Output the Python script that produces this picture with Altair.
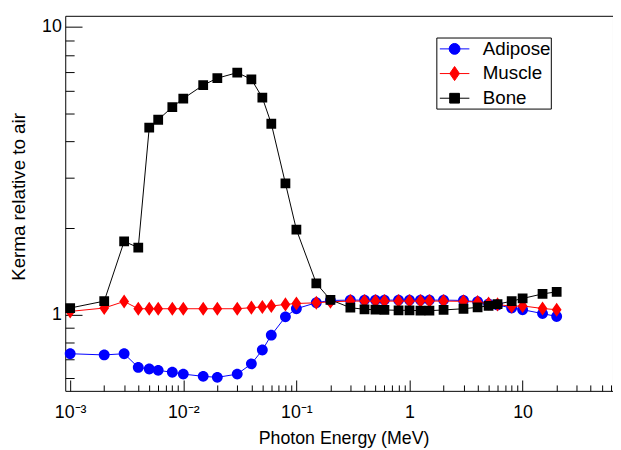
import altair as alt
import pandas as pd

# ---------------- data ----------------
energy = [0.001, 0.002, 0.003, 0.004, 0.005, 0.006, 0.008, 0.01, 0.015, 0.02,
          0.03, 0.04, 0.05, 0.06, 0.08, 0.1, 0.15, 0.2, 0.3, 0.4,
          0.5, 0.6, 0.8, 1.0, 1.25, 1.5, 2, 3, 4, 5,
          6, 8, 10, 15, 20]

adipose = [0.731, 0.724, 0.731, 0.655, 0.647, 0.640, 0.630, 0.621, 0.610, 0.605,
           0.621, 0.674, 0.753, 0.848, 0.982, 1.048, 1.100, 1.120, 1.123, 1.123,
           1.123, 1.123, 1.123, 1.123, 1.123, 1.123, 1.123, 1.120, 1.108, 1.090,
           1.080, 1.054, 1.040, 1.008, 0.985]

muscle = [1.026, 1.054, 1.111, 1.048, 1.048, 1.048, 1.048, 1.048, 1.048, 1.048,
          1.048, 1.057, 1.063, 1.071, 1.085, 1.093, 1.099, 1.108, 1.114, 1.114,
          1.114, 1.114, 1.114, 1.114, 1.114, 1.114, 1.114, 1.112, 1.105, 1.093,
          1.085, 1.068, 1.072, 1.050, 1.040]

bone = [1.054, 1.114, 1.797, 1.710, 4.47, 4.76, 5.27, 5.64, 6.28, 6.64,
        6.94, 6.58, 5.68, 4.61, 2.86, 1.975, 1.284, 1.126, 1.057, 1.043,
        1.040, 1.038, 1.035, 1.035, 1.032, 1.032, 1.038, 1.048, 1.060, 1.073,
        1.087, 1.114, 1.138, 1.180, 1.200]

series_names = ["Adipose", "Muscle", "Bone"]
series_colors = ["#0000ff", "#ff0000", "#000000"]

x_major = [0.001, 0.01, 0.1, 1, 10]
x_major_labels = ["10\u207b\u00b3", "10\u207b\u00b2", "10\u207b\u00b9", "1", "10"]
y_major = [1, 10]
y_major_labels = ["1", "10"]

# ---------------- layout constants ----------------
W, H = 555, 380
X_MIN, X_MAX = 10 ** -3.0436, 10 ** 1.799
Y_MIN, Y_MAX = 0.543, 10.94

x_minor = [m * 10 ** e for e in range(-3, 2) for m in range(2, 10)
           if X_MIN < m * 10 ** e < X_MAX]
y_minor = [m * 10 ** e for e in range(-1, 1) for m in range(2, 10)
           if Y_MIN < m * 10 ** e < Y_MAX]

# legend symbols: marker + horizontal line (line drawn only by stroke)
circle_path = "M-1.36,0H1.36M0.5,0A0.5,0.5,0,1,1,-0.5,0A0.5,0.5,0,1,1,0.5,0Z"
diamond_path = "M-1.36,0H1.36M0,-0.65L0.45,0L0,0.65L-0.45,0Z"
square_path = "M-1.36,0H1.36M-0.45,-0.45H0.45V0.45H-0.45Z"
series_shapes = [circle_path, diamond_path, square_path]

rows = []
for name, vals in zip(series_names, [adipose, muscle, bone]):
    for e, v in zip(energy, vals):
        rows.append({"energy": e, "kerma": v, "series": name})
df = pd.DataFrame(rows)


def label_expr(values, labels):
    expr = "'" + labels[-1] + "'"
    for v, l in reversed(list(zip(values[:-1], labels[:-1]))):
        expr = "datum.value < " + repr(v * 2) + " ? '" + l + "' : (" + expr + ")"
    return expr


xscale = alt.Scale(type="log", domain=[X_MIN, X_MAX], nice=False)
yscale = alt.Scale(type="log", domain=[Y_MIN, Y_MAX], nice=False)

x_label_axis = alt.Axis(
    orient="bottom", values=x_major, labelExpr=label_expr(x_major, x_major_labels),
    ticks=False, tickSize=0, domain=False, grid=False, labelPadding=13,
    labelFontSize=18, labelFlush=False, labelOverlap=False,
    title="Photon Energy (MeV)", titleFontSize=18, titleFontWeight="normal",
    titleX=282, titleY=53, titleBaseline="alphabetic", titleAlign="center",
)
y_label_axis = alt.Axis(
    orient="left", values=y_major, labelExpr=label_expr(y_major, y_major_labels),
    ticks=False, tickSize=0, domain=False, grid=False, labelPadding=4,
    labelFontSize=18, labelFlush=False, labelOverlap=False,
    title="Kerma relative to air", titleFontSize=19, titleFontWeight="normal",
    titleX=-47, titleY=183, titleAngle=270, titleBaseline="middle", titleAlign="center",
)

legend = alt.Legend(
    title=None, orient="none", legendX=376, legendY=22,
    strokeColor="black", fillColor="white", padding=0,
    symbolSize=484, symbolStrokeWidth=1, symbolOffset=7,
    labelOffset=17, rowPadding=3, labelFontSize=19,
    labelFont="Liberation Sans", labelColor="black",
    labelExpr="datum.label + '" + "\u00a0" * 9 + "'",
)

fill_scale = alt.Scale(domain=series_names, range=series_colors)
shape_scale = alt.Scale(domain=series_names, range=series_shapes)

layers = []
for name, color in zip(series_names, series_colors):
    base = alt.Chart(df).transform_filter(alt.datum.series == name)
    line = base.mark_line(color=color, strokeWidth=1).encode(
        x=alt.X("energy:Q", scale=xscale, axis=x_label_axis),
        y=alt.Y("kerma:Q", scale=yscale, axis=y_label_axis),
    )
    pts = base.mark_point(filled=True, size=484, strokeWidth=0, opacity=1).encode(
        x=alt.X("energy:Q", scale=xscale, axis=x_label_axis),
        y=alt.Y("kerma:Q", scale=yscale, axis=y_label_axis),
        fill=alt.Fill("series:N", scale=fill_scale, legend=legend),
        stroke=alt.Stroke("series:N", scale=fill_scale, legend=legend),
        shape=alt.Shape("series:N", scale=shape_scale, legend=legend),
    )
    layers += [line, pts]

main = alt.layer(*layers)


def tick_layer(xvals, xsize, yvals, ysize):
    return alt.Chart(df).mark_point(opacity=0).encode(
        x=alt.X("energy:Q", scale=xscale,
                axis=alt.Axis(orient="top", offset=-H, values=xvals, labels=False,
                              domain=False, grid=False, ticks=True, tickSize=xsize,
                              tickColor="black", tickWidth=1, title=None)),
        y=alt.Y("kerma:Q", scale=yscale,
                axis=alt.Axis(orient="right", offset=-W, values=yvals, labels=False,
                              domain=False, grid=False, ticks=True, tickSize=ysize,
                              tickColor="black", tickWidth=1, title=None)),
    )


minor = tick_layer(x_minor, 6, y_minor, 9)
major = tick_layer(x_major, 11, y_major, 17)

chart = (
    alt.layer(main, minor, major)
    .resolve_scale(x="independent", y="independent")
    .properties(
        width=W, height=H,
        padding={"left": 58, "top": 5, "right": 0, "bottom": 57},
        autosize=alt.AutoSizeParams(type="none"),
        background="white",
    )
    .configure_view(stroke="black", strokeWidth=1)
    .configure_axis(labelFont="Liberation Sans", titleFont="Liberation Sans",
                    labelColor="black", titleColor="black")
)

chart.save("out.html", embed_options={"renderer": "svg", "actions": False})
